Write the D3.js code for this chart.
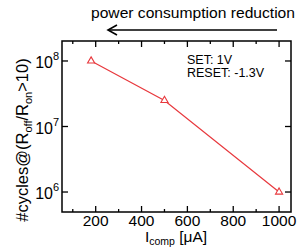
<!DOCTYPE html>
<html><head><meta charset="utf-8">
<script src="https://cdn.jsdelivr.net/npm/d3@7"></script>
<style>body{margin:0;background:#fff}svg{display:block}text{font-family:"Liberation Sans",Arial,sans-serif;fill:#000}</style>
</head><body><svg id="c" width="299" height="247"></svg>
<script>
const currents = [180, 500, 1000];
const cycles = [1e8, 2.5e7, 1e6];
const xMajorTicks = [200, 400, 600, 800, 1000];
const xMinorTicks = [100, 300, 500, 700, 900];
const yTickExps = [6, 7, 8];

const svg = d3.select("#c");
const L = 62, R = 291, T = 41, B = 212;
const x = d3.scaleLinear().domain([53, 1052]).range([L, R]);
const y = d3.scaleLog().domain([Math.pow(10, 5.695), Math.pow(10, 8.305)]).range([B, T]);
const red = "#e8383d";

svg.append("rect").attr("x", L).attr("y", T).attr("width", R - L).attr("height", B - T)
  .attr("fill", "none").attr("stroke", "#000").attr("stroke-width", 1.5);

const g = svg.append("g");
xMajorTicks.forEach(v => {
  g.append("line").attr("x1", x(v)).attr("x2", x(v)).attr("y1", B).attr("y2", B - 6).attr("stroke", "#000").attr("stroke-width", 1.3);
  g.append("line").attr("x1", x(v)).attr("x2", x(v)).attr("y1", T).attr("y2", T + 6).attr("stroke", "#000").attr("stroke-width", 1.3);
  g.append("text").attr("x", x(v)).attr("y", 226).attr("text-anchor", "middle").attr("font-size", 15.5).text(v);
});
xMinorTicks.forEach(v => {
  g.append("line").attr("x1", x(v)).attr("x2", x(v)).attr("y1", B).attr("y2", B - 3).attr("stroke", "#000").attr("stroke-width", 1.3);
  g.append("line").attr("x1", x(v)).attr("x2", x(v)).attr("y1", T).attr("y2", T + 3).attr("stroke", "#000").attr("stroke-width", 1.3);
});
yTickExps.forEach(e => {
  const v = Math.pow(10, e);
  g.append("line").attr("x1", L).attr("x2", L + 6).attr("y1", y(v)).attr("y2", y(v)).attr("stroke", "#000").attr("stroke-width", 1.3);
  g.append("line").attr("x1", R).attr("x2", R - 6).attr("y1", y(v)).attr("y2", y(v)).attr("stroke", "#000").attr("stroke-width", 1.3);
  g.append("text").attr("x", 53).attr("y", y(v) + 7).attr("text-anchor", "end").attr("font-size", 16).text("10");
  g.append("text").attr("x", 53).attr("y", y(v) - 1).attr("font-size", 11).text(e);
});

const pts = currents.map((c, i) => [c, cycles[i]]);
svg.append("path").datum(pts)
  .attr("d", d3.line().x(d => x(d[0])).y(d => y(d[1])))
  .attr("fill", "none").attr("stroke", red).attr("stroke-width", 1.2);
svg.selectAll(".m").data(pts).enter().append("path")
  .attr("transform", d => `translate(${x(d[0])},${y(d[1])})`)
  .attr("d", d3.symbol().type(d3.symbolTriangle).size(22))
  .attr("fill", "#fff").attr("stroke", red).attr("stroke-width", 1.1);

svg.append("text").attr("x", 187).attr("y", 64).attr("font-size", 12.5).text("SET: 1V");
svg.append("text").attr("x", 187).attr("y", 77).attr("font-size", 12.5).text("RESET: -1.3V");

svg.append("text").attr("x", 91).attr("y", 18).attr("font-size", 15.5)
  .attr("textLength", 204).attr("lengthAdjust", "spacingAndGlyphs").text("power consumption reduction");
svg.append("line").attr("x1", 108).attr("x2", 277).attr("y1", 30).attr("y2", 30)
  .attr("stroke", "#000").attr("stroke-width", 1.6);
svg.append("path").attr("d", "M117,25 L108,30 L117,35").attr("fill", "none").attr("stroke", "#000").attr("stroke-width", 1.6);

const xt = svg.append("text").attr("x", 176).attr("y", 242).attr("text-anchor", "middle").attr("font-size", 15.5);
xt.append("tspan").text("I");
xt.append("tspan").attr("font-size", 10.5).attr("dy", 3).text("comp");
xt.append("tspan").attr("dy", -3).text(" [μA]");

const yt = svg.append("text").attr("transform", "translate(28,140) rotate(-90)").attr("text-anchor", "middle").attr("font-size", 16.5);
yt.append("tspan").text("#cycles@(R");
yt.append("tspan").attr("font-size", 11).attr("dy", 4).text("off");
yt.append("tspan").attr("dy", -4).text("/R");
yt.append("tspan").attr("font-size", 11).attr("dy", 4).text("on");
yt.append("tspan").attr("dy", -4).text(">10)");
</script></body></html>
